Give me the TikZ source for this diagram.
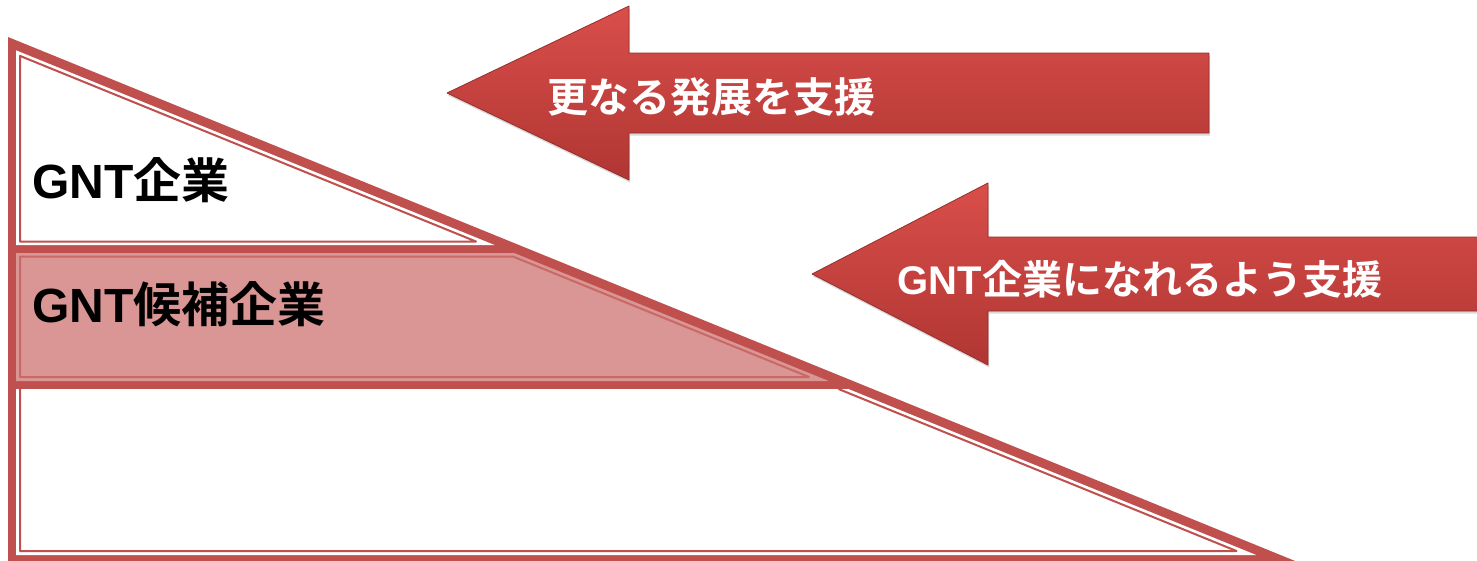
\documentclass[tikz,border=0pt]{standalone}
\usepackage{fontspec}
\setmainfont{Liberation Sans}
\newfontfamily\cjk{Noto Sans CJK JP}[BoldFont={Noto Sans CJK JP Bold}]
\usetikzlibrary{shadows}
\definecolor{rahmenrot}{HTML}{C0504D}
\definecolor{stufenrosa}{HTML}{D99694}
\definecolor{pfeiloben}{HTML}{D94E4A}
\definecolor{pfeilunten}{HTML}{B03633}

\begin{document}
\begin{tikzpicture}[x=1pt,y=-1pt,
  linie/.style={draw=rahmenrot,line width=2pt,line join=round},
  pfeil/.style={top color=pfeiloben,bottom color=pfeilunten,draw=pfeilunten!85!black,line width=0.8pt,line join=round,
    drop shadow={opacity=0.3,shadow xshift=1pt,shadow yshift=-2.5pt}},
  pfeiltext/.style={inner sep=0pt,text=white,font=\bfseries\fontsize{41}{45}\selectfont},
  stufentext/.style={inner sep=0pt,anchor=west,font=\bfseries\fontsize{48}{52}\selectfont}]

\useasboundingbox (0,0) rectangle (1477,560);

%Rahmen
\fill[rahmenrot] (8,37) -- (8,565) -- (1305,565) -- cycle;

%obere Stufe
\fill[white] (16,50.3) -- (16,245) -- (494.5,245) -- cycle;
\draw[linie] (20,55.9) -- (20,241.5) -- (476,241.5) -- cycle;

%mittlere Stufe
\fill[stufenrosa] (16,253) -- (16,381) -- (828.6,381) -- (514.1,253) -- cycle;
\draw[linie,draw=rahmenrot!65!stufenrosa] (20,256.5) -- (20,377) -- (809,377) -- (512.9,256.5) -- cycle;

%untere Stufe
\fill[white] (16,389) -- (16,555) -- (1256.2,555) -- (848.3,389) -- cycle;
\draw[linie] (20,389) -- (20,551) -- (1236.5,551) -- (838.5,389);

%Pfeile
\draw[pfeil] (447,93) -- (629,6) -- (629,53) -- (1209,53) -- (1209,133) -- (629,133) -- (629,180) -- cycle;
\draw[pfeil] (812,274) -- (988,183) -- (988,237) -- (1490,237) -- (1490,311) -- (988,311) -- (988,365) -- cycle;

%Texte
\node[pfeiltext] (foerderung) at (711,97) {\cjk 更なる発展を支援};
\node[pfeiltext,font=\bfseries\fontsize{40}{44}\selectfont] (aufstieg) at (1140,279) {GNT\cjk 企業になれるよう支援};
\node[stufentext] (gnt) at (32,180) {GNT\cjk 企業};
\node[stufentext] (kandidat) at (32,304) {GNT\cjk 候補企業};

\end{tikzpicture}
\end{document}
